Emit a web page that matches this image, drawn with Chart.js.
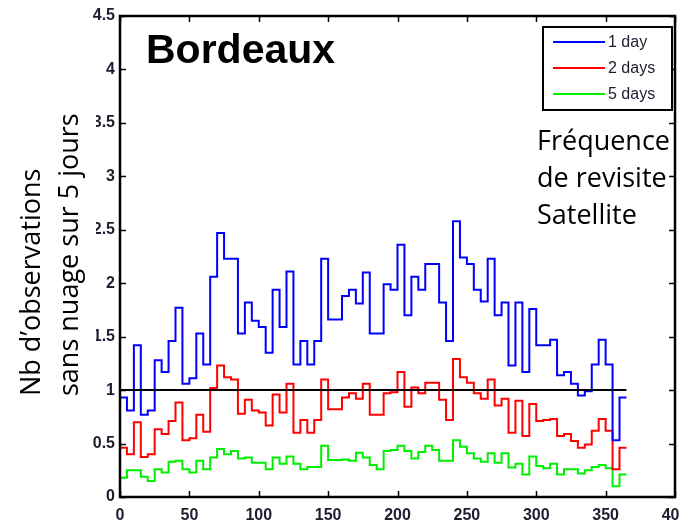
<!DOCTYPE html>
<html>
<head>
<meta charset="utf-8">
<script src="https://cdn.jsdelivr.net/npm/chart.js@4.4.1/dist/chart.umd.min.js"></script>
<style>
  html, body { margin: 0; padding: 0; background: #fff; }
</style>
</head>
<body>
<canvas id="chart" width="680" height="522"></canvas>
<script>
// number of cloud-free observations per 5-day bin, one value per bin (day 0 -> 365)
const blue = [0.93, 0.81, 1.42, 0.77, 0.81, 1.28, 1.17, 1.46, 1.77, 1.06, 1.11, 1.53, 1.24,
  2.06, 2.47, 2.23, 2.23, 1.53, 1.82, 1.65, 1.59, 1.35, 1.94, 1.59, 2.11, 1.24, 1.46, 1.24,
  1.46, 2.23, 1.66, 1.66, 1.88, 1.94, 1.81, 2.10, 1.53, 1.53, 1.99, 1.94, 2.36, 1.70, 2.06,
  1.94, 2.18, 2.18, 1.82, 1.46, 2.58, 2.24, 2.18, 1.94, 1.83, 2.23, 1.70, 1.82, 1.23, 1.82,
  1.17, 1.76, 1.42, 1.42, 1.47, 1.14, 1.17, 1.06, 0.95, 0.99, 1.24, 1.47, 1.24, 0.53, 0.93];
const red = [0.46, 0.40, 0.70, 0.375, 0.40, 0.635, 0.59, 0.71, 0.885, 0.53, 0.55, 0.77, 0.61,
  1.02, 1.23, 1.12, 1.10, 0.78, 0.91, 0.81, 0.79, 0.67, 0.96, 0.79, 1.06, 0.60, 0.72, 0.60,
  0.72, 1.10, 0.82, 0.82, 0.93, 0.97, 0.92, 1.06, 0.77, 0.77, 0.97, 0.98, 1.17, 0.845, 1.025,
  0.97, 1.07, 1.07, 0.91, 0.72, 1.29, 1.12, 1.07, 0.97, 0.92, 1.10, 0.855, 0.92, 0.60, 0.90,
  0.57, 0.87, 0.71, 0.72, 0.73, 0.57, 0.59, 0.525, 0.46, 0.49, 0.62, 0.73, 0.62, 0.26, 0.46];
const green = [0.18, 0.25, 0.25, 0.19, 0.15, 0.26, 0.23, 0.33, 0.34, 0.26, 0.23, 0.34, 0.26,
  0.37, 0.45, 0.40, 0.43, 0.36, 0.37, 0.32, 0.32, 0.26, 0.37, 0.31, 0.38, 0.31, 0.26, 0.28,
  0.28, 0.48, 0.345, 0.345, 0.35, 0.34, 0.415, 0.37, 0.30, 0.26, 0.43, 0.44, 0.48, 0.43, 0.36,
  0.42, 0.48, 0.44, 0.34, 0.34, 0.53, 0.47, 0.41, 0.36, 0.33, 0.41, 0.32, 0.41, 0.275, 0.31,
  0.21, 0.38, 0.29, 0.27, 0.31, 0.21, 0.26, 0.26, 0.22, 0.25, 0.28, 0.30, 0.27, 0.10, 0.21];

const binDays = 5;
const days = Array.from({ length: blue.length + 1 }, (_, i) => i * binDays); // bin edges 0..365
const refLevel = 1;
const seriesNames = ['1 day', '2 days', '5 days'];
const seriesColors = ['#0000ff', '#ff0000', '#00ee00'];
const yLabel = ['Nb d\u2019observations', 'sans nuage sur 5 jours'];
const sideNote = ['Fréquence', 'de revisite', 'Satellite'];
const title = 'Bordeaux';

// matlab-style stairs: value i holds from days[i] to days[i+1]
function stairs(values) {
  const pts = values.map((v, i) => ({ x: days[i], y: v }));
  pts.push({ x: days[values.length], y: values[values.length - 1] });
  return pts;
}

const tickFont = { family: 'Liberation Sans, Arial, sans-serif', size: 16, weight: 'bold' };
const tickColor = '#1d1d30';

const decorations = {
  id: 'decorations',
  afterDatasetsDraw(chart) {
    const ctx = chart.ctx;
    const { left, right, top, bottom } = chart.chartArea;
    const x = chart.scales.x, y = chart.scales.y;
    ctx.save();
    ctx.strokeStyle = '#000';
    ctx.lineWidth = 1.5;
    ctx.beginPath();
    // inward ticks on all four sides
    y.ticks.forEach(t => {
      const py = Math.round(y.getPixelForValue(t.value)) + 0.5;
      ctx.moveTo(left, py); ctx.lineTo(left + 6, py);
      ctx.moveTo(right, py); ctx.lineTo(right - 6, py);
    });
    x.ticks.forEach(t => {
      const px = Math.round(x.getPixelForValue(t.value)) + 0.5;
      ctx.moveTo(px, bottom); ctx.lineTo(px, bottom - 6);
      ctx.moveTo(px, top); ctx.lineTo(px, top + 6);
    });
    ctx.stroke();
    ctx.lineWidth = 2.5;
    ctx.strokeRect(left, top, right - left, bottom - top);
    ctx.restore();
  },
  afterDraw(chart) {
    const ctx = chart.ctx;
    ctx.save();

    // title inside the axes
    ctx.fillStyle = '#000';
    ctx.font = 'bold 41px "Liberation Sans", Arial, sans-serif';
    ctx.textBaseline = 'alphabetic';
    ctx.textAlign = 'left';
    ctx.fillText(title, 146, 63);

    // legend box
    const lx = 543, ly = 27, lw = 129, lh = 83;
    ctx.fillStyle = '#fff';
    ctx.fillRect(lx, ly, lw, lh);
    ctx.strokeStyle = '#000';
    ctx.lineWidth = 2;
    ctx.strokeRect(lx, ly, lw, lh);
    ctx.font = '16px "Liberation Sans", Arial, sans-serif';
    ctx.textBaseline = 'middle';
    seriesNames.forEach((name, i) => {
      const yy = 42 + i * 26;
      ctx.strokeStyle = seriesColors[i];
      ctx.lineWidth = 2;
      ctx.beginPath();
      ctx.moveTo(553, yy); ctx.lineTo(605, yy);
      ctx.stroke();
      ctx.fillStyle = '#1d1d30';
      ctx.fillText(name, 608, yy + 1);
    });

    // side note (text box laid over the plot)
    ctx.fillStyle = '#000';
    ctx.font = '27px "Open Sans", sans-serif';
    ctx.textBaseline = 'alphabetic';
    sideNote.forEach((line, i) => ctx.fillText(line, 537, 150 + i * 37));

    // y label text box, white background hides part of the tick labels
    ctx.fillStyle = '#fff';
    ctx.fillRect(0, 80, 96, 330);
    ctx.fillStyle = '#000';
    ctx.translate(0, 396);
    ctx.rotate(-Math.PI / 2);
    ctx.fillText(yLabel[0], 0, 40);
    ctx.fillText(yLabel[1], 0, 78);
    ctx.restore();
  }
};

new Chart(document.getElementById('chart'), {
  type: 'line',
  data: {
    datasets: [
      {
        label: 'ref',
        data: [{ x: days[0], y: refLevel }, { x: days[days.length - 1], y: refLevel }],
        borderColor: '#000',
        borderWidth: 2
      },
      { label: seriesNames[0], data: stairs(blue), borderColor: seriesColors[0] },
      { label: seriesNames[1], data: stairs(red), borderColor: seriesColors[1] },
      { label: seriesNames[2], data: stairs(green), borderColor: seriesColors[2] }
    ]
  },
  options: {
    responsive: false,
    animation: false,
    layout: { padding: { left: 0, right: 5, top: 16, bottom: 0 } },
    datasets: {
      line: { stepped: 'before', pointRadius: 0, borderWidth: 2, fill: false }
    },
    plugins: { legend: { display: false }, tooltip: { enabled: false } },
    scales: {
      x: {
        type: 'linear',
        min: 0,
        max: 400,
        grid: { display: false, drawTicks: false },
        border: { display: false },
        ticks: { stepSize: 50, padding: 9, font: tickFont, color: tickColor, maxRotation: 0 },
        afterFit(scale) { scale.height = 25; scale.paddingLeft = 0; scale.paddingRight = 0; }
      },
      y: {
        min: 0,
        max: 4.5,
        grid: { display: false, drawTicks: false },
        border: { display: false },
        ticks: {
          stepSize: 0.5, padding: 5, font: tickFont, color: tickColor,
          callback: v => String(v)
        },
        afterFit(scale) { scale.width = 120; scale.paddingTop = 0; scale.paddingBottom = 0; }
      }
    }
  },
  plugins: [decorations]
});
</script>
</body>
</html>
